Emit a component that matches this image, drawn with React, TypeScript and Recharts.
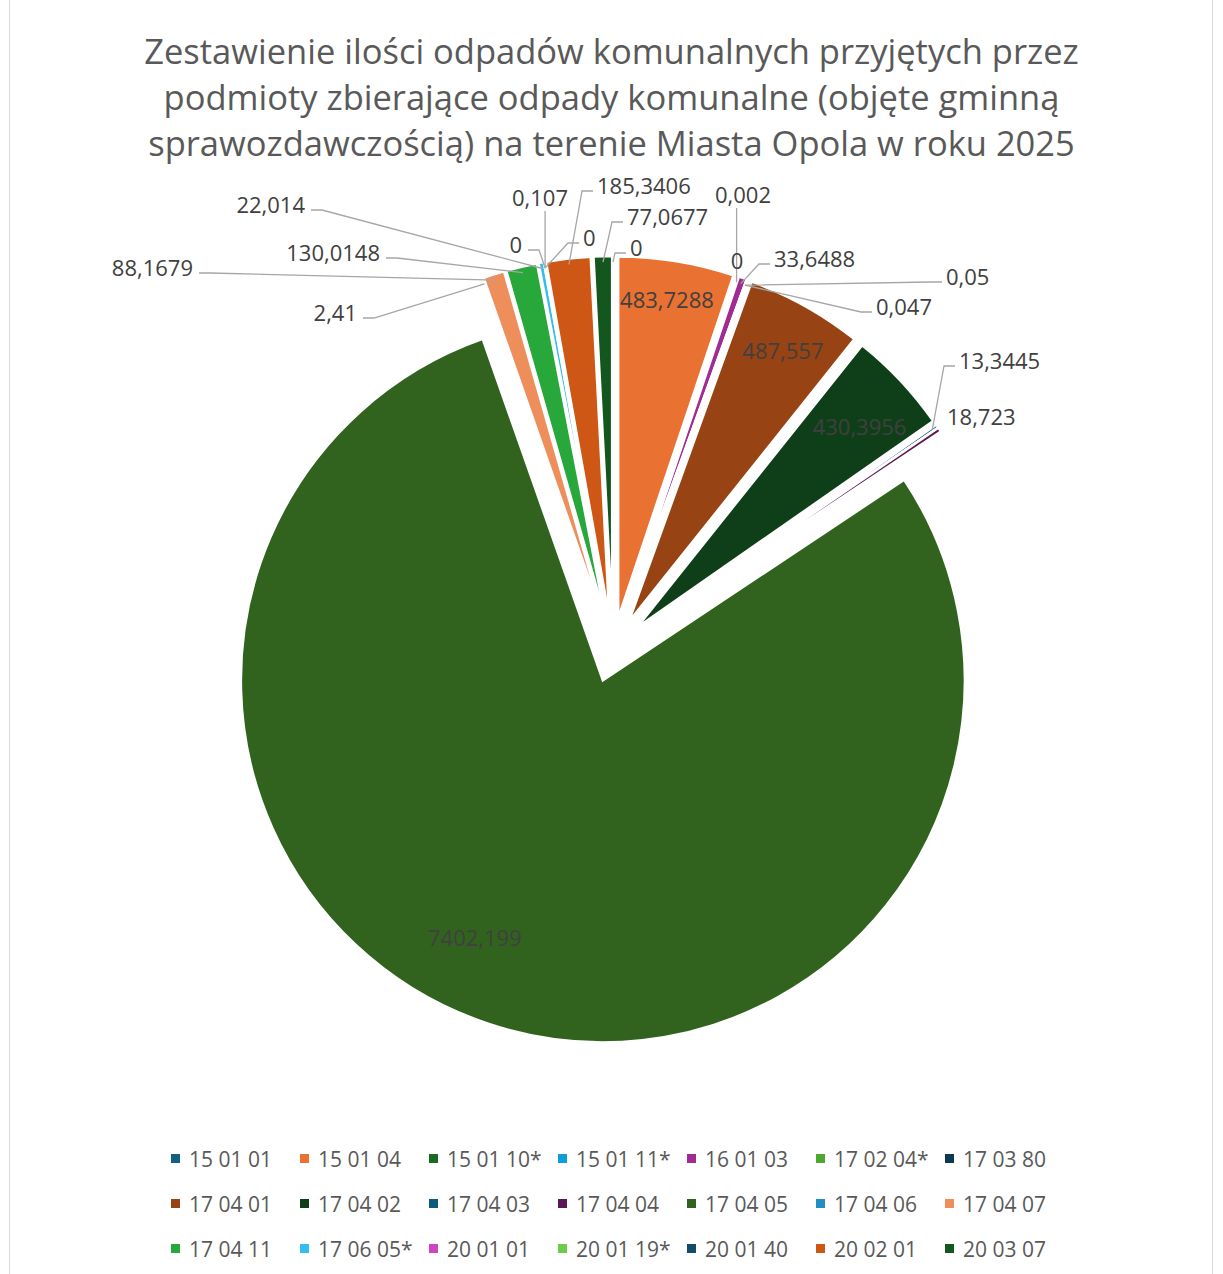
import React from 'react'
import { PieChart, Pie, Cell, Legend, Sector } from 'recharts'

// waste codes, clockwise from 12 o'clock
const categories = [
  '15 01 01', '15 01 04', '15 01 10*', '15 01 11*', '16 01 03', '17 02 04*', '17 03 80',
  '17 04 01', '17 04 02', '17 04 03', '17 04 04', '17 04 05', '17 04 06', '17 04 07',
  '17 04 11', '17 06 05*', '20 01 01', '20 01 19*', '20 01 40', '20 02 01', '20 03 07',
]

// tonnes
const values = [
  0, 483.7288, 0.002, 0, 33.6488, 0.05, 0.047,
  487.557, 430.3956, 13.3445, 18.723, 7402.199, 2.41, 88.1679,
  130.0148, 22.014, 0, 0.107, 0, 185.3406, 77.0677,
]

const colors = [
  '#156082', '#E97132', '#196B24', '#0F9ED5', '#A02B93', '#4EA72E', '#0C3A52',
  '#984313', '#0F3F18', '#0E5A7C', '#5C1856', '#31631F', '#1F8FC6', '#ED8E5B',
  '#28A83A', '#33BDF0', '#CD45BF', '#6CCB4A', '#124C6A', '#CF5716', '#14571E',
]

const data = categories.map((name, i) => ({ name, value: values[i] }))

const FONT = '"Open Sans", "Noto Sans", sans-serif'
const EXPLODE = 32
const RAD = Math.PI / 180

// where Excel put each data label (offsets from the pie centre, or polar inside the slice)
type Spot =
  | { kind: 'inside'; r: number; shift: number }
  | { kind: 'start' | 'end' | 'above' | 'plain' | 'plainStart'; dx: number; dy: number }

const labelSpots: Record<string, Spot> = {
  '15 01 01': { kind: 'start', dx: 17, dy: -403 },
  '15 01 04': { kind: 'inside', r: 323, shift: -0.6 },
  '15 01 10*': { kind: 'above', dx: 130, dy: -456 },
  '15 01 11*': { kind: 'plain', dx: 124, dy: -390 },
  '16 01 03': { kind: 'start', dx: 161, dy: -392 },
  '17 02 04*': { kind: 'start', dx: 333, dy: -374 },
  '17 03 80': { kind: 'start', dx: 263, dy: -344 },
  '17 04 01': { kind: 'inside', r: 313, shift: 0.3 },
  '17 04 02': { kind: 'inside', r: 301, shift: 1 },
  '17 04 03': { kind: 'start', dx: 346, dy: -290 },
  '17 04 04': { kind: 'plainStart', dx: 334, dy: -234 },
  '17 04 05': { kind: 'inside', r: 287, shift: 8 },
  '17 04 06': { kind: 'end', dx: -256, dy: -338 },
  '17 04 07': { kind: 'end', dx: -420, dy: -383 },
  '17 04 11': { kind: 'end', dx: -233, dy: -398 },
  '17 06 05*': { kind: 'end', dx: -308, dy: -446 },
  '20 01 01': { kind: 'end', dx: -91, dy: -406 },
  '20 01 19*': { kind: 'above', dx: -73, dy: -453 },
  '20 01 40': { kind: 'start', dx: -30, dy: -413 },
  '20 02 01': { kind: 'start', dx: -16, dy: -465 },
  '20 03 07': { kind: 'start', dx: 14, dy: -434 },
}

const fmt = (v: number) => String(v).replace('.', ',')

const ExplodedSector = (props: any) => {
  const { cx, cy, midAngle } = props
  const ox = EXPLODE * Math.cos(-midAngle * RAD)
  const oy = EXPLODE * Math.sin(-midAngle * RAD)
  return <Sector {...props} cx={cx + ox} cy={cy + oy} />
}

const renderLabel = (props: any) => {
  const { cx, cy, midAngle, outerRadius, value } = props
  const name = props.payload?.name ?? props.name
  const spot = labelSpots[name]
  if (!spot) return null
  const text = fmt(value)
  const textStyle = { fontFamily: FONT, fontSize: 22, fill: '#404040' }

  if (spot.kind === 'inside') {
    const ex = cx + EXPLODE * Math.cos(-midAngle * RAD)
    const ey = cy + EXPLODE * Math.sin(-midAngle * RAD)
    const a = (midAngle - spot.shift) * RAD
    const x = ex + spot.r * Math.cos(-a)
    const y = ey + spot.r * Math.sin(-a)
    return (
      <text x={x} y={y} textAnchor="middle" dominantBaseline="central" style={textStyle}>
        {text}
      </text>
    )
  }

  const tx = cx + spot.dx
  const ty = cy + spot.dy
  const pr = outerRadius + EXPLODE - 6
  const px = cx + pr * Math.cos(-midAngle * RAD)
  const py = cy + pr * Math.sin(-midAngle * RAD)
  const line = { stroke: '#A6A6A6', strokeWidth: 1.3, fill: 'none' }

  let leader: React.ReactNode = null
  let anchor: 'start' | 'end' | 'middle' = 'middle'
  if (spot.kind === 'start') {
    anchor = 'start'
    leader = <polyline points={`${tx - 4},${ty + 6} ${tx - 15},${ty + 6} ${px},${py}`} {...line} />
  } else if (spot.kind === 'end') {
    anchor = 'end'
    leader = <polyline points={`${tx + 6},${ty + 6} ${tx + 17},${ty + 6} ${px},${py}`} {...line} />
  } else if (spot.kind === 'above') {
    leader = <polyline points={`${px},${ty + 14} ${px},${py}`} {...line} />
  } else if (spot.kind === 'plainStart') {
    anchor = 'start'
  }

  return (
    <g>
      {leader}
      <text x={tx} y={ty} textAnchor={anchor} dominantBaseline="central" style={textStyle}>
        {text}
      </text>
    </g>
  )
}

const renderLegend = (props: any) => {
  const payload: any[] = props.payload && props.payload.length ? props.payload : []
  const items = categories.map((name, i) => {
    const p = payload.find((e) => e.value === name)
    return { name, color: p?.color ?? colors[i] }
  })
  const rows = [items.slice(0, 7), items.slice(7, 14), items.slice(14, 21)]
  return (
    <div style={{ paddingLeft: 171 }}>
      {rows.map((row, r) => (
        <div key={r} style={{ display: 'flex', height: 45, alignItems: 'center' }}>
          {row.map((it) => (
            <div key={it.name} style={{ width: 129, display: 'flex', alignItems: 'center' }}>
              <span style={{ width: 9, height: 9, background: it.color, marginRight: 9, flex: 'none' }} />
              <span style={{ fontFamily: FONT, fontSize: 21, color: '#595959', whiteSpace: 'nowrap' }}>
                {it.name}
              </span>
            </div>
          ))}
        </div>
      ))}
    </div>
  )
}

const titleLines = [
  'Zestawienie ilości odpadów komunalnych przyjętych przez',
  'podmioty zbierające odpady komunalne (objęte gminną',
  'sprawozdawczością) na terenie Miasta Opola w roku 2025',
]

export default function App() {
  return (
    <div style={{ position: 'absolute', left: 0, top: 0, width: 1223, height: 1274, background: '#fff' }}>
      {/* chart-area frame */}
      <div
        style={{
          position: 'absolute',
          left: 9,
          top: -2,
          width: 1204,
          height: 1280,
          border: '1px solid #D9D9D9',
          boxSizing: 'border-box',
        }}
      />
      <div
        style={{
          position: 'absolute',
          top: 28,
          left: 0,
          width: 1223,
          textAlign: 'center',
          fontFamily: FONT,
          fontSize: 34.5,
          lineHeight: '46px',
          color: '#595959',
          zIndex: 2,
        }}
      >
        {titleLines.map((l) => (
          <div key={l}>{l}</div>
        ))}
      </div>
      <PieChart width={1223} height={1274} margin={{ top: 0, right: 0, bottom: 0, left: 0 }}>
        <Pie
          data={data}
          dataKey="value"
          nameKey="name"
          cx={613}
          cy={650}
          outerRadius={362}
          startAngle={90}
          endAngle={-270}
          stroke="#fff"
          strokeWidth={2.5}
          shape={ExplodedSector}
          label={renderLabel}
          labelLine={false}
          isAnimationActive={false}
        >
          {colors.map((c, i) => (
            <Cell key={i} fill={c} />
          ))}
        </Pie>
        <Legend
          content={renderLegend}
          wrapperStyle={{ position: 'absolute', top: 1136, left: 0, width: 1223, bottom: 'auto' }}
        />
      </PieChart>
    </div>
  )
}
